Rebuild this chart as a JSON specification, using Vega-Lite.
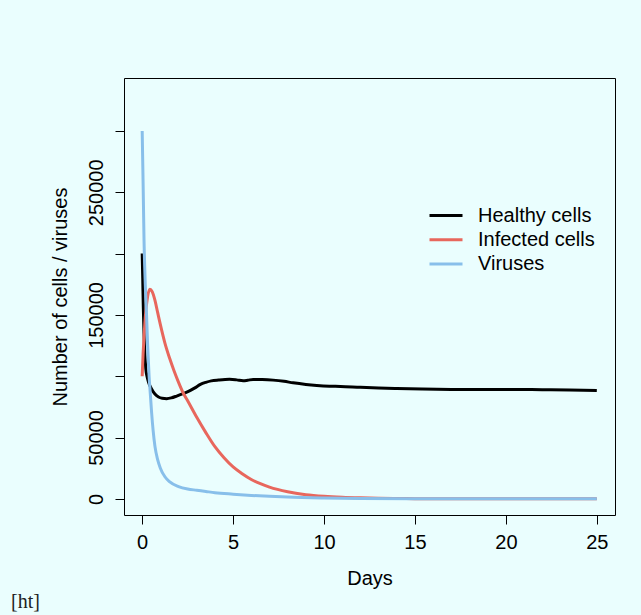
{
  "$schema": "https://vega.github.io/schema/vega-lite/v6.json",
  "width": 491,
  "height": 437,
  "autosize": {"type": "none"},
  "padding": {"left": 124, "top": 78, "right": 26, "bottom": 100},
  "background": "#eafefe",
  "title": {
    "text": "[ht]",
    "orient": "bottom",
    "anchor": "start",
    "frame": "group",
    "font": "Liberation Serif",
    "fontSize": 20,
    "fontWeight": "normal",
    "color": "#222222",
    "dx": -113,
    "offset": 4
  },
  "config": {
    "view": {"stroke": "#000000", "strokeWidth": 1},
    "axis": {
      "grid": false,
      "domain": false,
      "tickColor": "#000000",
      "tickWidth": 1,
      "tickSize": 9,
      "labelFont": "Liberation Sans",
      "labelFontSize": 20,
      "labelColor": "#000000",
      "labelOverlap": false,
      "labelFlush": false,
      "titleFont": "Liberation Sans",
      "titleFontSize": 20,
      "titleFontWeight": "normal",
      "titleColor": "#000000"
    },
    "legend": {
      "labelFont": "Liberation Sans",
      "labelFontSize": 20,
      "labelColor": "#000000"
    }
  },
  "data": {
    "values": [
      {"t": 0, "s": "Healthy cells", "v": 200000},
      {"t": 0.03, "s": "Healthy cells", "v": 180000},
      {"t": 0.06, "s": "Healthy cells", "v": 157000},
      {"t": 0.1, "s": "Healthy cells", "v": 135000},
      {"t": 0.15, "s": "Healthy cells", "v": 117000},
      {"t": 0.2, "s": "Healthy cells", "v": 106000},
      {"t": 0.27, "s": "Healthy cells", "v": 99500},
      {"t": 0.35, "s": "Healthy cells", "v": 95000},
      {"t": 0.5, "s": "Healthy cells", "v": 90000},
      {"t": 0.7, "s": "Healthy cells", "v": 85500},
      {"t": 0.9, "s": "Healthy cells", "v": 83000},
      {"t": 1.1, "s": "Healthy cells", "v": 82000},
      {"t": 1.35, "s": "Healthy cells", "v": 81700},
      {"t": 1.6, "s": "Healthy cells", "v": 82300},
      {"t": 1.9, "s": "Healthy cells", "v": 83800},
      {"t": 2.25, "s": "Healthy cells", "v": 85800},
      {"t": 2.6, "s": "Healthy cells", "v": 88000},
      {"t": 2.9, "s": "Healthy cells", "v": 90500},
      {"t": 3.2, "s": "Healthy cells", "v": 93300},
      {"t": 3.5, "s": "Healthy cells", "v": 95000},
      {"t": 3.8, "s": "Healthy cells", "v": 96200},
      {"t": 4.2, "s": "Healthy cells", "v": 96900},
      {"t": 4.8, "s": "Healthy cells", "v": 97500},
      {"t": 5.2, "s": "Healthy cells", "v": 97000},
      {"t": 5.55, "s": "Healthy cells", "v": 96300},
      {"t": 5.8, "s": "Healthy cells", "v": 96700},
      {"t": 6.1, "s": "Healthy cells", "v": 97400},
      {"t": 6.6, "s": "Healthy cells", "v": 97300},
      {"t": 7.2, "s": "Healthy cells", "v": 96800},
      {"t": 7.8, "s": "Healthy cells", "v": 95800},
      {"t": 8.3, "s": "Healthy cells", "v": 94600},
      {"t": 9.0, "s": "Healthy cells", "v": 93300},
      {"t": 9.6, "s": "Healthy cells", "v": 92500},
      {"t": 10.3, "s": "Healthy cells", "v": 91900},
      {"t": 10.9, "s": "Healthy cells", "v": 91700},
      {"t": 12.0, "s": "Healthy cells", "v": 90900},
      {"t": 13.0, "s": "Healthy cells", "v": 90300},
      {"t": 14.0, "s": "Healthy cells", "v": 89900},
      {"t": 15.4, "s": "Healthy cells", "v": 89500},
      {"t": 17.0, "s": "Healthy cells", "v": 89200},
      {"t": 18.5, "s": "Healthy cells", "v": 89100},
      {"t": 20.0, "s": "Healthy cells", "v": 89200},
      {"t": 22.0, "s": "Healthy cells", "v": 89000},
      {"t": 23.5, "s": "Healthy cells", "v": 88700},
      {"t": 25.0, "s": "Healthy cells", "v": 88400},
      {"t": 0, "s": "Infected cells", "v": 100000},
      {"t": 0.05, "s": "Infected cells", "v": 118000},
      {"t": 0.1, "s": "Infected cells", "v": 132000},
      {"t": 0.15, "s": "Infected cells", "v": 144000},
      {"t": 0.2, "s": "Infected cells", "v": 153000},
      {"t": 0.3, "s": "Infected cells", "v": 165000},
      {"t": 0.42, "s": "Infected cells", "v": 171000},
      {"t": 0.55, "s": "Infected cells", "v": 169000},
      {"t": 0.7, "s": "Infected cells", "v": 162000},
      {"t": 0.85, "s": "Infected cells", "v": 152000},
      {"t": 1.0, "s": "Infected cells", "v": 142000},
      {"t": 1.25, "s": "Infected cells", "v": 127000},
      {"t": 1.5, "s": "Infected cells", "v": 115000},
      {"t": 1.75, "s": "Infected cells", "v": 104500},
      {"t": 2.0, "s": "Infected cells", "v": 95000},
      {"t": 2.25, "s": "Infected cells", "v": 86500},
      {"t": 2.5, "s": "Infected cells", "v": 80000},
      {"t": 3.0, "s": "Infected cells", "v": 66500},
      {"t": 3.5, "s": "Infected cells", "v": 54000},
      {"t": 4.0, "s": "Infected cells", "v": 42500},
      {"t": 4.5, "s": "Infected cells", "v": 33500},
      {"t": 5.0, "s": "Infected cells", "v": 26000},
      {"t": 5.5, "s": "Infected cells", "v": 20500},
      {"t": 6.0, "s": "Infected cells", "v": 15800},
      {"t": 6.5, "s": "Infected cells", "v": 12300},
      {"t": 7.0, "s": "Infected cells", "v": 9500},
      {"t": 8.0, "s": "Infected cells", "v": 5700},
      {"t": 9.0, "s": "Infected cells", "v": 3400},
      {"t": 10.0, "s": "Infected cells", "v": 2100},
      {"t": 11.0, "s": "Infected cells", "v": 1300},
      {"t": 12.0, "s": "Infected cells", "v": 800},
      {"t": 13.0, "s": "Infected cells", "v": 450},
      {"t": 14.0, "s": "Infected cells", "v": 250},
      {"t": 15.0, "s": "Infected cells", "v": 150},
      {"t": 17.0, "s": "Infected cells", "v": 50},
      {"t": 20.0, "s": "Infected cells", "v": 10},
      {"t": 25.0, "s": "Infected cells", "v": 0},
      {"t": 0, "s": "Viruses", "v": 300000},
      {"t": 0.05, "s": "Viruses", "v": 258000},
      {"t": 0.1, "s": "Viruses", "v": 212000},
      {"t": 0.17, "s": "Viruses", "v": 175000},
      {"t": 0.24, "s": "Viruses", "v": 150000},
      {"t": 0.3, "s": "Viruses", "v": 125000},
      {"t": 0.38, "s": "Viruses", "v": 100000},
      {"t": 0.45, "s": "Viruses", "v": 85000},
      {"t": 0.52, "s": "Viruses", "v": 70000},
      {"t": 0.6, "s": "Viruses", "v": 56000},
      {"t": 0.7, "s": "Viruses", "v": 43000},
      {"t": 0.85, "s": "Viruses", "v": 32000},
      {"t": 1.0, "s": "Viruses", "v": 25000},
      {"t": 1.25, "s": "Viruses", "v": 18000},
      {"t": 1.5, "s": "Viruses", "v": 14000},
      {"t": 2.0, "s": "Viruses", "v": 10000},
      {"t": 2.5, "s": "Viruses", "v": 8000},
      {"t": 3.0, "s": "Viruses", "v": 7000},
      {"t": 3.5, "s": "Viruses", "v": 6000},
      {"t": 4.0, "s": "Viruses", "v": 5000},
      {"t": 5.0, "s": "Viruses", "v": 3800},
      {"t": 6.0, "s": "Viruses", "v": 2800},
      {"t": 7.0, "s": "Viruses", "v": 2000},
      {"t": 8.0, "s": "Viruses", "v": 1400},
      {"t": 10.0, "s": "Viruses", "v": 700},
      {"t": 12.0, "s": "Viruses", "v": 300},
      {"t": 15.0, "s": "Viruses", "v": 100},
      {"t": 20.0, "s": "Viruses", "v": 20},
      {"t": 25.0, "s": "Viruses", "v": 0}
    ]
  },
  "mark": {"type": "line", "strokeWidth": 3, "interpolate": "monotone"},
  "encoding": {
    "x": {
      "field": "t",
      "type": "quantitative",
      "scale": {"domain": [-1, 26], "nice": false, "zero": false},
      "axis": {
        "title": "Days",
        "values": [0, 5, 10, 15, 20, 25],
        "labelPadding": 8,
        "labelBaseline": "top",
        "titleX": 245.5,
        "titleY": 69,
        "titleBaseline": "alphabetic",
        "titleAlign": "center"
      }
    },
    "y": {
      "field": "v",
      "type": "quantitative",
      "scale": {"domain": [-13200, 343200], "nice": false, "zero": false},
      "axis": {
        "title": "Number of cells / viruses",
        "values": [0, 50000, 100000, 150000, 200000, 250000, 300000],
        "format": "d",
        "labelExpr": "(datum.value == 0 || datum.value % 100000 == 50000) ? datum.label : ''",
        "labelAngle": -90,
        "labelAlign": "center",
        "labelBaseline": "alphabetic",
        "labelPadding": 13,
        "titleAngle": -90,
        "titleX": -58,
        "titleY": 218.5,
        "titleBaseline": "alphabetic",
        "titleAlign": "center"
      }
    },
    "color": {
      "field": "s",
      "type": "nominal",
      "scale": {
        "domain": ["Healthy cells", "Infected cells", "Viruses"],
        "range": ["#000000", "#e8675d", "#88bfea"]
      },
      "legend": {
        "title": null,
        "orient": "none",
        "legendX": 304,
        "legendY": 127,
        "symbolType": "stroke",
        "symbolSize": 1089,
        "symbolStrokeWidth": 3,
        "clipHeight": 21,
        "rowPadding": 3.3,
        "labelOffset": 14,
        "padding": 0
      }
    }
  }
}
